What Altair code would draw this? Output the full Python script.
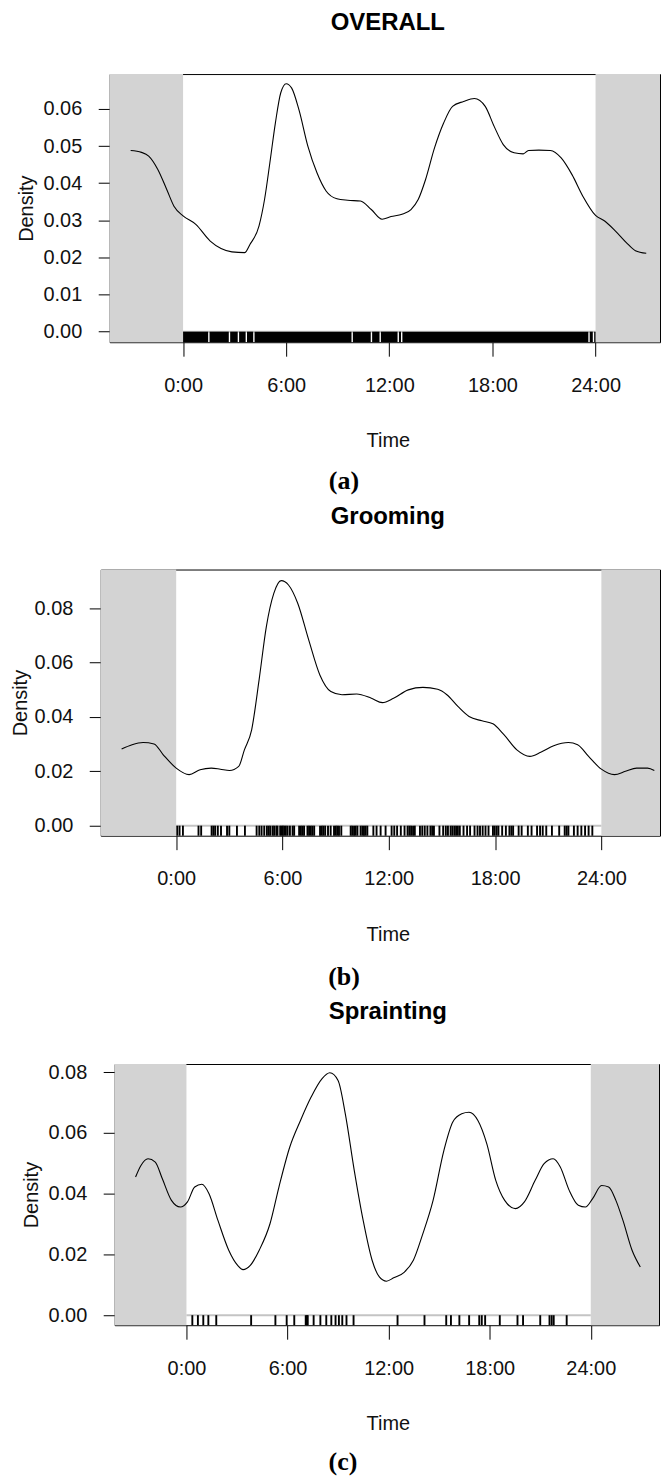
import altair as alt
import pandas as pd

# ---------------- data ----------------
tick_values = [0, 6, 12, 18, 24]
tick_labels = ["0:00", "6:00", "12:00", "18:00", "24:00"]
titles = ["OVERALL", "Grooming", "Sprainting"]
captions = ["(a)", "(b)", "(c)"]
y_ticks_a = [0.00, 0.01, 0.02, 0.03, 0.04, 0.05, 0.06]
y_ticks_bc = [0.00, 0.02, 0.04, 0.06, 0.08]

time_a = [-3.05, -2.42, -2.0, -1.47, -0.95, -0.53, 0.0, 0.74, 1.58, 2.21, 2.84, 3.58, 3.89, 4.42,
          4.74, 5.05, 5.37, 5.68, 6.0, 6.32, 6.74, 7.26, 7.79, 8.32, 8.95, 9.58, 10.32, 10.95,
          11.58, 12.1, 12.74, 13.26, 13.68, 14.11, 14.63, 15.16, 15.68, 16.32, 16.95, 17.58, 18.1,
          18.63, 19.26, 19.79, 20.1, 20.7, 21.37, 22.0, 22.63, 23.26, 24.0, 24.53, 25.16, 25.79,
          26.32, 26.95]
dens_a = [0.0488, 0.0483, 0.0473, 0.0437, 0.0383, 0.0338, 0.0312, 0.0289, 0.0244, 0.0224, 0.0215,
          0.0213, 0.0235, 0.0285, 0.0356, 0.0455, 0.0562, 0.0643, 0.0668, 0.0656, 0.0598, 0.0500,
          0.0428, 0.0379, 0.0358, 0.0354, 0.0352, 0.0329, 0.0303, 0.0310, 0.0316, 0.0329, 0.0356,
          0.0410, 0.0495, 0.0562, 0.0607, 0.0620, 0.0628, 0.0607, 0.0553, 0.0504, 0.0482, 0.0479,
          0.0488, 0.0489, 0.0488, 0.0468, 0.0423, 0.0365, 0.0313, 0.0298, 0.0271, 0.0240, 0.0218,
          0.0211]
rug_a_start = [0.0, 1.54, 2.74, 3.26, 3.72, 4.16, 9.88, 11.0, 11.51, 12.56, 12.76, 23.66, 23.92]
rug_a_end = [1.46, 2.66, 3.18, 3.64, 4.08, 9.80, 10.92, 11.43, 12.48, 12.68, 23.58, 23.84, 24.0]

time_b = [-3.08, -2.49, -1.87, -1.25, -0.73, 0.0, 0.73, 1.35, 1.98, 2.49, 3.01, 3.53, 3.85, 4.26,
          4.68, 5.09, 5.51, 5.93, 6.34, 6.86, 7.48, 8.11, 8.73, 9.36, 10.19, 11.02, 11.64, 12.27,
          13.1, 13.93, 14.76, 15.28, 15.9, 16.53, 17.26, 17.88, 18.5, 19.23, 19.96, 20.58, 21.31,
          22.14, 22.66, 23.28, 24.0, 24.74, 25.36, 25.99, 26.61, 26.99]
dens_b = [0.0282, 0.0298, 0.0306, 0.0301, 0.0261, 0.0212, 0.0188, 0.0206, 0.0212, 0.0208, 0.0203,
          0.0218, 0.0279, 0.0353, 0.0537, 0.0733, 0.0855, 0.0902, 0.0886, 0.0819, 0.0684, 0.0555,
          0.0494, 0.0482, 0.0485, 0.0469, 0.0453, 0.0469, 0.0500, 0.0509, 0.0502, 0.0482, 0.0439,
          0.0402, 0.0386, 0.0375, 0.0335, 0.0279, 0.0255, 0.0270, 0.0294, 0.0306, 0.0298, 0.0255,
          0.0208, 0.0188, 0.0200, 0.0212, 0.0212, 0.0203]
rug_b = [0.06, 0.19, 0.38, 1.26, 1.41, 2.0, 2.1, 2.2, 2.35, 2.53, 2.87, 3.0, 3.43, 3.88, 4.54, 4.69,
         4.82, 4.97, 5.12, 5.22, 5.31, 5.44, 5.53, 5.65, 5.72, 5.87, 5.95, 6.02, 6.1, 6.19, 6.29,
         6.42, 6.57, 6.66, 6.94, 7.04, 7.13, 7.22, 7.41, 7.5, 7.6, 7.69, 7.79, 8.12, 8.22, 8.31,
         8.41, 8.57, 8.72, 8.91, 9.01, 9.1, 9.19, 9.32, 9.85, 9.94, 10.04, 10.13, 10.23, 10.41,
         10.51, 10.6, 10.69, 10.79, 11.13, 11.31, 11.54, 11.82, 12.16, 12.31, 12.47, 12.68, 12.89,
         13.06, 13.16, 13.26, 13.37, 13.47, 13.76, 13.89, 14.03, 14.18, 14.35, 14.45, 14.55, 14.86,
         15.07, 15.22, 15.34, 15.49, 15.59, 15.7, 15.8, 15.9, 16.01, 16.22, 16.42, 16.59, 16.84,
         17.01, 17.15, 17.3, 17.46, 17.63, 17.88, 17.98, 18.09, 18.19, 18.4, 18.61, 18.81, 18.92,
         19.02, 19.33, 19.5, 19.85, 20.06, 20.37, 20.54, 20.69, 20.89, 21.21, 21.62, 21.93, 22.04,
         22.14, 22.45, 22.66, 22.87, 23.08, 23.28, 23.49]

time_c = [-3.02, -2.7, -2.28, -1.85, -1.43, -0.89, -0.36, 0.06, 0.49, 0.91, 1.34, 1.87, 2.51, 3.04,
          3.36, 3.79, 4.32, 4.96, 5.49, 6.13, 6.77, 7.4, 8.04, 8.51, 9.0, 9.43, 9.96, 10.49, 11.02,
          11.45, 11.87, 12.3, 12.94, 13.47, 14.0, 14.64, 15.28, 15.81, 16.34, 16.77, 17.3, 17.83,
          18.36, 18.89, 19.53, 20.06, 20.7, 21.23, 21.77, 22.19, 22.72, 23.26, 23.68, 24.11, 24.64,
          25.06, 25.49, 25.91, 26.45, 26.94]
dens_c = [0.0455, 0.0493, 0.0515, 0.0504, 0.0449, 0.0378, 0.0356, 0.0373, 0.0422, 0.0431, 0.0400,
          0.0312, 0.0214, 0.0164, 0.0150, 0.0164, 0.0214, 0.0301, 0.0422, 0.0553, 0.0641, 0.0718,
          0.0778, 0.0798, 0.0773, 0.0663, 0.0477, 0.0312, 0.0181, 0.0126, 0.0112, 0.0123, 0.0142,
          0.0181, 0.0263, 0.0378, 0.0542, 0.0636, 0.0663, 0.0668, 0.0641, 0.0564, 0.0444, 0.0378,
          0.0351, 0.0373, 0.0444, 0.0499, 0.0515, 0.0488, 0.0411, 0.0362, 0.0356, 0.0384, 0.0427,
          0.0422, 0.0378, 0.0312, 0.0214, 0.0159]
rug_c = [0.35, 0.68, 1.0, 1.3, 1.77, 3.84, 5.28, 5.95, 6.4, 7.08, 7.15, 7.2, 7.55, 7.95, 8.3, 8.6,
         8.85, 9.05, 9.25, 9.5, 9.92, 12.53, 14.13, 15.42, 15.7, 16.2, 16.78, 17.38, 17.53, 17.73,
         18.6, 19.65, 19.98, 21.0, 21.55, 21.68, 21.8, 22.57]

# ---------------- styling / layout ----------------
SANS = "Liberation Sans"
SERIF = "Liberation Serif"
SHADE = "#d3d3d3"
CENTER_X = 387  # page x of the centred titles

label_expr = "".join(f"datum.value == {v} ? '{l}' : " for v, l in zip(tick_values, tick_labels)) + "''"


def panel(idx, t, d, yvals, xdom, ydom, w, h, left, ext, cap_x, cap_dy, title_dy, ytitle_x,
          rug=None, rug_blocks=None):
    xmin, xmax = xdom
    ymin, ymax = ydom
    xenc = alt.X("t:Q", scale=alt.Scale(domain=[xmin, xmax], nice=False, zero=False),
                 axis=alt.Axis(values=tick_values, labelExpr=label_expr, title="Time", tickSize=14,
                               labelPadding=29, labelBaseline="middle", titleY=99,
                               titleX=CENTER_X - left, titleAlign="center",
                               titleBaseline="middle"))
    yenc = alt.Y("d:Q", scale=alt.Scale(domain=[ymin, ymax], nice=False, zero=False),
                 axis=alt.Axis(values=yvals, format=".2f", title="Density", tickSize=11.5,
                               labelPadding=16.5, titleX=ytitle_x, titleY=h / 2,
                               titleBaseline="middle", titleAlign="center"))

    shade = alt.Chart(pd.DataFrame({"t": [xmin, 24], "t2": [0, xmax]})).mark_rect(
        color=SHADE).encode(x=xenc, x2="t2", y=alt.value(0), y2=alt.value(h))

    zero = alt.Chart(pd.DataFrame({"t": [0], "t2": [24], "d": [0.0]})).mark_rule(
        color="#c4c4c4", strokeWidth=2).encode(x=xenc, x2="t2", y=yenc)

    if rug_blocks is not None:
        s, e = rug_blocks
        rugl = alt.Chart(pd.DataFrame({"t": s, "t2": e, "d": [0.0] * len(s), "d2": [ymin] * len(s)})).mark_rect(
            color="black").encode(x=xenc, x2="t2", y=yenc, y2="d2")
    else:
        rugl = alt.Chart(pd.DataFrame({"t": rug, "d": [0.0] * len(rug), "d2": [ymin] * len(rug)})).mark_rule(
            color="black", strokeWidth=1.9).encode(x=xenc, y=yenc, y2="d2")

    line = alt.Chart(pd.DataFrame({"t": t, "d": d})).mark_line(
        color="black", strokeWidth=1.1, interpolate="monotone").encode(x=xenc, y=yenc)

    ttl = alt.Chart(pd.DataFrame({"ttl": [titles[idx]]})).mark_text(
        font=SANS, fontWeight="bold", fontSize=24, color="black", align="center", baseline="alphabetic"
    ).encode(text="ttl:N", x=alt.value(CENTER_X - left), y=alt.value(title_dy))

    cap = alt.Chart(pd.DataFrame({"cap": [captions[idx]]})).mark_text(
        font=SERIF, fontWeight="bold", fontSize=26, color="black", align="center", baseline="middle"
    ).encode(text="cap:N", x=alt.value(cap_x), y=alt.value(h + cap_dy))

    extender = alt.Chart(pd.DataFrame({"k": [0]})).mark_rule(color="white", strokeWidth=1).encode(
        x=alt.value(-ext), x2=alt.value(-ext + 1), y=alt.value(h / 2))

    body = alt.layer(shade, zero, rugl, line, ttl, cap, extender).properties(width=w, height=h)

    spacer_w = left - 8 - ext
    spacer = alt.Chart(pd.DataFrame({"k": [0]})).mark_point(opacity=0, size=1).encode(
        x=alt.value(0), y=alt.value(0)
    ).properties(width=spacer_w, height=1, view=alt.ViewBackground(strokeOpacity=0, strokeWidth=0))
    return alt.hconcat(spacer, body, spacing=0)


pa = panel(0, time_a, dens_a, y_ticks_a, (-4.27, 27.75), (-0.00285, 0.0694), 552, 269,
           108, 96, 235, 139, -44, -83, rug_blocks=(rug_a_start, rug_a_end))
pb = panel(1, time_b, dens_b, y_ticks_bc, (-4.26, 27.31), (-0.0037, 0.0943), 561, 267,
           99, 90, 244, 141.5, -46, -80, rug=rug_b)
pc = panel(2, time_c, dens_c, y_ticks_bc, (-4.26, 28.05), (-0.0033, 0.0827), 546, 262,
           113, 96, 229, 137.5, -45, -83, rug=rug_c)

chart = alt.vconcat(pa, pb, pc, spacing=9).properties(
    padding={"left": 0, "top": 0, "right": 0, "bottom": 0}
).configure_view(stroke="black", strokeWidth=1).configure_axis(
    labelFont=SANS, titleFont=SANS, labelFontSize=20, titleFontSize=20, titleFontWeight="normal",
    labelColor="#111111", titleColor="#111111", tickColor="black", tickWidth=1,
    domain=False, grid=False
)

chart.save("out.html", embed_options={"renderer": "svg", "actions": False})
